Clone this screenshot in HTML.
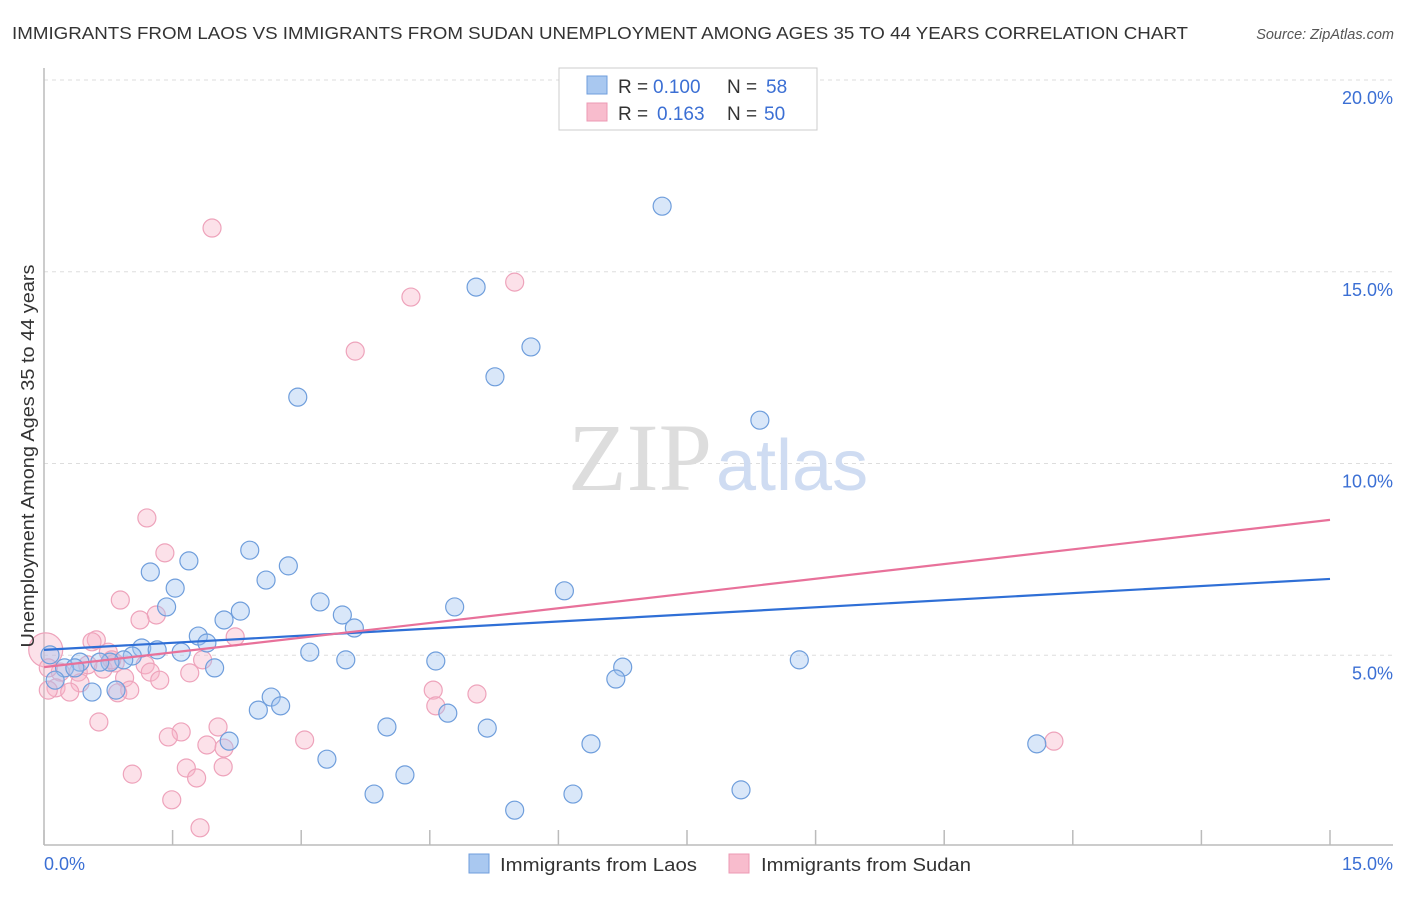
<!DOCTYPE html>
<html><head><meta charset="utf-8"><style>
body{margin:0;background:#fff;font-family:"Liberation Sans",sans-serif;}
</style></head><body>
<svg width="1406" height="892" xmlns="http://www.w3.org/2000/svg" style="font-family:'Liberation Sans',sans-serif">
<text x="12" y="39" font-size="17.5" fill="#333" textLength="1176" lengthAdjust="spacingAndGlyphs">IMMIGRANTS FROM LAOS VS IMMIGRANTS FROM SUDAN UNEMPLOYMENT AMONG AGES 35 TO 44 YEARS CORRELATION CHART</text>
<text x="1394" y="39" font-size="14.5" fill="#555" text-anchor="end" font-style="italic">Source: ZipAtlas.com</text>
<g id="grid"></g>
<text x="712" y="490" font-size="96" fill="#ddd" text-anchor="end" font-family="Liberation Serif,serif">ZIP</text>
<text x="716" y="490" font-size="72" fill="#cfdcf2">atlas</text>
<line x1="44" y1="68" x2="44" y2="845" stroke="#bbb" stroke-width="1.5"/>
<line x1="44" y1="845" x2="1393" y2="845" stroke="#bbb" stroke-width="1.5"/>
<g id="xticks"></g>
<g id="ylabels"></g>
<g id="pts"></g>
<g id="trends"></g>
<text x="44" y="870" font-size="18" fill="#3b6fd4">0.0%</text>
<text x="1393" y="870" font-size="18" fill="#3b6fd4" text-anchor="end">15.0%</text>
<text transform="translate(34,456) rotate(-90)" font-size="18" fill="#333" text-anchor="middle" textLength="383" lengthAdjust="spacingAndGlyphs">Unemployment Among Ages 35 to 44 years</text>
<g>
<rect x="559" y="68" width="258" height="62" fill="#fff" stroke="#ccc"/>
<rect x="587" y="76" width="20" height="18" fill="#a9c8f0" stroke="#6f9edc"/>
<rect x="587" y="103" width="20" height="18" fill="#f8bccd" stroke="#ec9ab4"/>
<text y="93" font-size="19" fill="#333"><tspan x="618">R =</tspan><tspan x="653" fill="#3b6fd4">0.100</tspan><tspan x="727">N =</tspan><tspan x="766" fill="#3b6fd4">58</tspan></text>
<text y="120" font-size="19" fill="#333"><tspan x="618">R =</tspan><tspan x="657" fill="#3b6fd4">0.163</tspan><tspan x="727">N =</tspan><tspan x="764" fill="#3b6fd4">50</tspan></text>
</g>
<g>
<rect x="469" y="854" width="20" height="19" fill="#a9c8f0" stroke="#6f9edc"/>
<text x="500" y="871" font-size="18" fill="#333" textLength="197" lengthAdjust="spacingAndGlyphs">Immigrants from Laos</text>
<rect x="729" y="854" width="20" height="19" fill="#f8bccd" stroke="#ec9ab4"/>
<text x="761" y="871" font-size="18" fill="#333" textLength="210" lengthAdjust="spacingAndGlyphs">Immigrants from Sudan</text>
</g>
</svg>
<script>
const yTicks=[5,10,15,20];
const yTickLabels=["5.0%","10.0%","15.0%","20.0%"];
const xTicks=[0,1.5,3,4.5,6,7.5,9,10.5,12,13.5,15];
const laosX=[7.21,5.04,5.68,5.26,2.96,8.35,2.40,1.69,1.24,2.85,2.59,1.53,6.07,1.43,3.22,2.29,4.79,3.48,2.10,3.62,1.80,1.90,1.14,1.32,1.60,3.10,1.03,8.81,4.57,3.52,0.93,0.77,0.65,0.42,0.07,0.24,0.36,1.99,6.75,6.67,0.13,0.56,0.84,2.65,2.76,2.50,4.71,2.16,4.00,5.17,6.38,11.58,3.30,4.21,8.13,3.85,6.17,5.49];
const laosY=[16.71,14.60,13.04,12.26,11.73,11.13,7.74,7.46,7.17,7.33,6.96,6.75,6.68,6.26,6.39,6.15,6.26,6.05,5.92,5.71,5.50,5.32,5.19,5.14,5.08,5.08,4.98,4.88,4.85,4.88,4.88,4.82,4.82,4.82,5.01,4.67,4.67,4.67,4.69,4.38,4.35,4.04,4.09,3.91,3.68,3.57,3.49,2.76,3.13,3.10,2.69,2.69,2.29,1.88,1.49,1.38,1.38,0.96];
const sudanX=[1.96,5.49,4.28,3.63,1.20,1.41,0.89,1.31,1.12,2.23,0.61,0.56,0.75,0.02,1.85,1.18,0.69,0.83,1.24,1.70,1.35,0.40,0.19,0.42,0.14,0.30,0.94,1.00,0.86,4.54,5.05,4.57,0.64,1.60,1.45,2.03,3.04,1.90,11.78,2.10,1.66,1.03,1.78,2.09,1.49,1.82,0.51,0.79,0.05,0.05];
const sudanY=[16.14,14.73,14.34,12.93,8.58,7.67,6.44,6.05,5.92,5.48,5.40,5.35,5.08,5.14,4.88,4.75,4.64,4.80,4.56,4.54,4.35,4.56,4.56,4.28,4.15,4.04,4.41,4.09,4.02,4.09,3.99,3.68,3.26,3.00,2.87,3.13,2.79,2.66,2.76,2.58,2.06,1.90,1.80,2.09,1.23,0.50,4.75,4.88,4.67,4.09];
const laosTrend=[5.14,6.99];
const sudanTrend=[4.69,8.53];
const NS="http://www.w3.org/2000/svg";
const sx=v=>44+v/15*1286;
const sy=v=>847-v/5*191.75;
function mk(t,a,p){const e=document.createElementNS(NS,t);for(const k in a)e.setAttribute(k,a[k]);p.appendChild(e);return e;}
const grid=document.getElementById('grid'),yl=document.getElementById('ylabels'),xt=document.getElementById('xticks');
yTicks.forEach((v,i)=>{
 const l=mk('line',{x1:44,x2:1393,y1:sy(v),y2:sy(v),stroke:'#ddd','stroke-dasharray':'4,4'},grid);
 
 
 const t=mk('text',{x:1393,y:sy(v)+24,'font-size':18,fill:'#3b6fd4','text-anchor':'end'},yl);
 t.textContent=yTickLabels[i];
 
 
});
xTicks.forEach(v=>{
 const l=mk('line',{x1:sx(v),x2:sx(v),y1:830,y2:845,stroke:'#bbb','stroke-width':1.5},xt);
 
 
});
const pts=document.getElementById('pts');
sudanX.forEach((x,i)=>{
 const r=i===13?17:9;
 const c=mk('circle',{cx:sx(x),cy:sy(sudanY[i]),r:r,fill:'rgba(248,180,200,0.4)',stroke:'#eea3bb','stroke-width':1.2},pts);
 
 
});
laosX.forEach((x,i)=>{
 const c=mk('circle',{cx:sx(x),cy:sy(laosY[i]),r:9,fill:'rgba(160,196,240,0.4)',stroke:'#6f9edc','stroke-width':1.2},pts);
 
 
});
const tr=document.getElementById('trends');
const lb=mk('line',{x1:sx(0),y1:sy(laosTrend[0]),x2:sx(15),y2:sy(laosTrend[1]),stroke:'#2f6fd6','stroke-width':2.2},tr);


const lp=mk('line',{x1:sx(0),y1:sy(sudanTrend[0]),x2:sx(15),y2:sy(sudanTrend[1]),stroke:'#e8719a','stroke-width':2.2},tr);


</script>
</body></html>
